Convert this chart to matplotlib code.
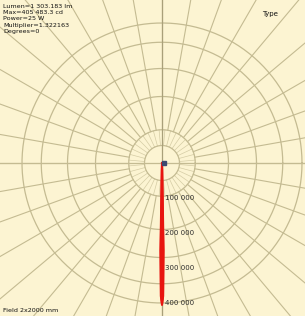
import numpy as np
import matplotlib
matplotlib.use("Agg")
import matplotlib.pyplot as plt

# ---- data ----
info_lines = ["Lumen=1 303.183 lm", "Max=405 483.3 cd", "Power=25 W",
              "Multiplier=1.322163", "Degrees=0"]
ring_values = [50000, 95000, 190000, 270000, 345000, 400000]
label_values = [100000, 200000, 300000, 400000]
label_texts = ["100 000", "200 000", "300 000", "400 000"]
spoke_angles = list(range(0, 360, 10))
inner_spoke_angles = list(range(0, 360, 10))
beam_angles = [-3, -2, -1, -0.5, 0, 0.5, 1, 2, 3]
beam_cd = [0, 20000, 250000, 380000, 405483, 380000, 250000, 20000, 0]

W, H = 305, 316
cx, cy = 162, 163
px_per_cd = 35 / 100000.0

fig = plt.figure(figsize=(W / 100, H / 100), dpi=100)
bg = "#fcf4d2"
fig.patch.set_facecolor(bg)
ax = fig.add_axes([0, 0, 1, 1])
ax.set_facecolor(bg)
ax.set_xlim(-cx / px_per_cd, (W - cx) / px_per_cd)
ax.set_ylim(-(H - cy) / px_per_cd, cy / px_per_cd)
ax.set_aspect("auto")
ax.axis("off")

grid_c = "#c4bb92"
dark_c = "#a9a07a"
big = 1.2e6
t = np.linspace(0, 2 * np.pi, 400)
for rv in ring_values:
    ax.plot(rv * np.cos(t), rv * np.sin(t), color=grid_c, lw=0.9, zorder=1)

r0, r1 = 50000, 95000
for a in spoke_angles:
    th = np.deg2rad(a)
    ax.plot([r1 * np.sin(th), big * np.sin(th)],
            [-r1 * np.cos(th), -big * np.cos(th)],
            color=grid_c, lw=0.8, zorder=1)
for a in inner_spoke_angles:
    th = np.deg2rad(a + 5)
    ax.plot([r0 * np.sin(th), r1 * np.sin(th)],
            [-r0 * np.cos(th), -r1 * np.cos(th)],
            color=grid_c, lw=0.5, alpha=0.7, zorder=1)

ax.axvline(0, color=dark_c, lw=0.9, zorder=2)
ax.axhline(0, color=grid_c, lw=0.9, zorder=2)

# beam
th = np.deg2rad(np.array(beam_angles))
r = np.array(beam_cd)
ax.fill(r * np.sin(th), -r * np.cos(th), color="#e8150f", lw=1.2, zorder=4)
ax.plot(r * np.sin(th), -r * np.cos(th), color="#e8150f", lw=1.5, zorder=4)
ax.plot([5000], [0], marker="s", ms=2.5, color="#3c4a70", zorder=5)

for v, s in zip(label_values, label_texts):
    ax.text(8000, -v, s, fontsize=5, color="#2a2a2a", va="center",
            ha="left", zorder=5)

for i, s in enumerate(info_lines):
    fig.text(3 / W, 1 - (6 + 6.5 * i) / H, s, fontsize=4.6, color="#111111",
             va="center", ha="left")
fig.text(262 / W, 1 - 14 / H, "Type", fontsize=5, color="#111111",
         va="center", ha="left")
fig.text(3 / W, 1 - 311 / H, "Field 2x2000 mm", fontsize=4.6, color="#111111",
         va="center", ha="left")

fig.savefig("out.png", dpi=100, facecolor=bg)
